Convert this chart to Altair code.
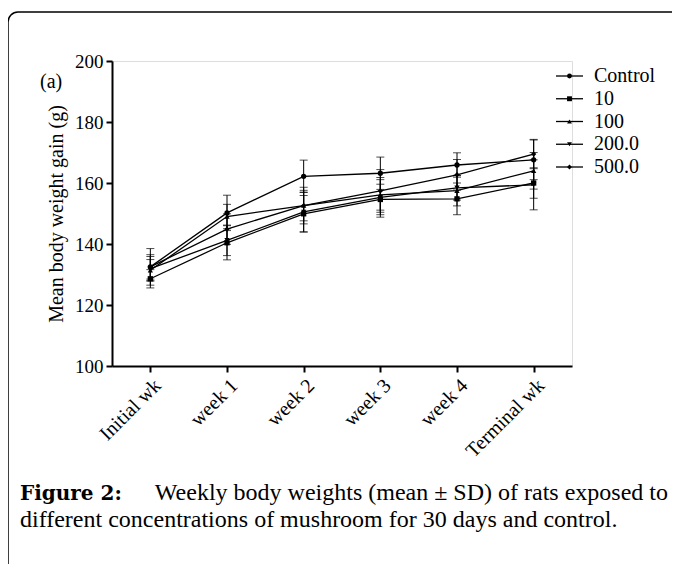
import altair as alt
import pandas as pd

weeks = ["Initial wk", "week 1", "week 2", "week 3", "week 4", "Terminal wk"]
series = ["Control", "10", "100", "200.0", "500.0"]
shapes = ["circle", "square", "triangle-up", "triangle-down", "diamond"]

control_mean = [132.5, 150.2, 162.2, 163.2, 165.9, 167.6]
control_sd = [6.0, 5.8, 5.3, 5.3, 4.0, 6.5]
c10_mean = [128.6, 140.4, 149.9, 154.6, 154.8, 160.0]
c10_sd = [3.0, 5.6, 6.0, 5.0, 5.2, 5.0]
c100_mean = [131.4, 149.0, 152.6, 156.1, 157.5, 164.0]
c100_sd = [3.5, 4.0, 5.0, 5.0, 5.0, 6.0]
c200_mean = [131.9, 141.2, 150.5, 155.3, 158.4, 159.4]
c200_sd = [4.0, 5.0, 6.5, 6.5, 4.0, 8.2]
c500_mean = [132.5, 144.9, 152.6, 157.4, 162.7, 169.5]
c500_sd = [4.0, 5.0, 6.0, 7.0, 5.0, 4.8]

means = [control_mean, c10_mean, c100_mean, c200_mean, c500_mean]
sds = [control_sd, c10_sd, c100_sd, c200_sd, c500_sd]

rows = []
for s, ms, ss in zip(series, means, sds):
    for w, m, sd in zip(weeks, ms, ss):
        rows.append({"week": w, "series": s, "mean": m, "lo": m - sd, "hi": m + sd})
df = pd.DataFrame(rows)

FONT = "Liberation Serif"

xenc = alt.X(
    "week:N", sort=weeks,
    scale=alt.Scale(type="point", padding=0.5),
    axis=alt.Axis(title=None, labelAngle=-45, labelFont=FONT, labelFontSize=20,
                  labelColor="black", domainColor="black", domainWidth=2,
                  tickColor="black", tickWidth=2, tickSize=6, labelPadding=3),
)

yscale = alt.Scale(domain=[100, 200], nice=False, zero=False)
yaxis = alt.Axis(title="Mean body weight gain (g)", values=[100, 120, 140, 160, 180, 200],
                 labelFont=FONT, labelFontSize=19, labelColor="black",
                 titleFont=FONT, titleFontSize=20, titleFontWeight="normal",
                 titleColor="black", titlePadding=8,
                 domainColor="black", domainWidth=2, tickColor="black",
                 tickWidth=2, tickSize=6, labelPadding=3, grid=False)


def yenc(field):
    return alt.Y(f"{field}:Q", scale=yscale, axis=yaxis)


shape_scale = alt.Scale(domain=series, range=shapes)

base = alt.Chart(df)
lines = base.mark_line(color="black", strokeWidth=1.3).encode(
    x=xenc, y=yenc("mean"), detail="series:N")
bars = base.mark_rule(color="black", strokeWidth=1).encode(
    x=xenc, y=yenc("lo"), y2="hi:Q")
cap_hi = base.mark_tick(color="black", size=8, thickness=1).encode(x=xenc, y=yenc("hi"))
cap_lo = base.mark_tick(color="black", size=8, thickness=1).encode(x=xenc, y=yenc("lo"))
points = base.mark_point(filled=True, color="black", size=28, opacity=1).encode(
    x=xenc, y=yenc("mean"),
    shape=alt.Shape("series:N", scale=shape_scale, legend=None))

main = alt.layer(bars, cap_hi, cap_lo, lines, points)

# manual legend
leg_df = pd.DataFrame({"series": series})
legY = alt.Y("series:N", sort=series,
             scale=alt.Scale(type="point", domain=series, range=[15, 106], padding=0),
             axis=None)
leg_base = alt.Chart(leg_df)
leg_line = leg_base.mark_rule(color="black", strokeWidth=1.3).encode(
    x=alt.value(444), x2=alt.value(471), y=legY)
leg_pt = leg_base.mark_point(filled=True, color="black", size=24, opacity=1).encode(
    x=alt.value(457.5), y=legY,
    shape=alt.Shape("series:N", scale=shape_scale, legend=None))
leg_text = leg_base.mark_text(align="left", baseline="middle", font=FONT,
                              fontSize=20, color="black").encode(
    x=alt.value(482), y=legY, text="series:N")
legend = alt.layer(leg_line, leg_pt, leg_text)

# annotations
one = pd.DataFrame({"k": [0]})
panel_label = alt.Chart(one).mark_text(align="left", baseline="middle", font=FONT,
                                       fontSize=20, color="black").encode(
    x=alt.value(-72), y=alt.value(21), text=alt.value("(a)"))
frame = alt.Chart(one).mark_rect(filled=False, stroke="black", strokeWidth=1.5,
                                 cornerRadius=10).encode(
    x=alt.value(-104), y=alt.value(-49), x2=alt.value(620), y2=alt.value(560))

cap_font = "Liberation Serif"
cap1a = alt.Chart(one).mark_text(align="left", baseline="alphabetic", font="DejaVu Serif",
                                 fontSize=20, fontWeight="bold", color="black").encode(
    x=alt.value(-92), y=alt.value(439), text=alt.value("Figure 2:"))
cap1b = alt.Chart(one).mark_text(align="right", baseline="alphabetic", font=cap_font,
                                 fontSize=24, color="black").encode(
    x=alt.value(556), y=alt.value(439),
    text=alt.value("Weekly body weights (mean \u00b1 SD) of rats exposed to"))
cap2 = alt.Chart(one).mark_text(align="left", baseline="alphabetic", font=cap_font,
                                fontSize=24, color="black").encode(
    x=alt.value(-92), y=alt.value(466),
    text=alt.value("different concentrations of mushroom for 30 days and control."))

chart = alt.layer(main, legend, panel_label, frame, cap1a, cap1b, cap2).resolve_scale(
    y="independent"
).properties(
    width=460, height=305,
    padding={"left": 104, "top": 53, "right": 100, "bottom": 198},
    autosize=alt.AutoSizeParams(type="none"),
).configure_view(stroke=None).configure(background="white")

chart.save("out.html", embed_options={"renderer": "svg", "actions": False})
